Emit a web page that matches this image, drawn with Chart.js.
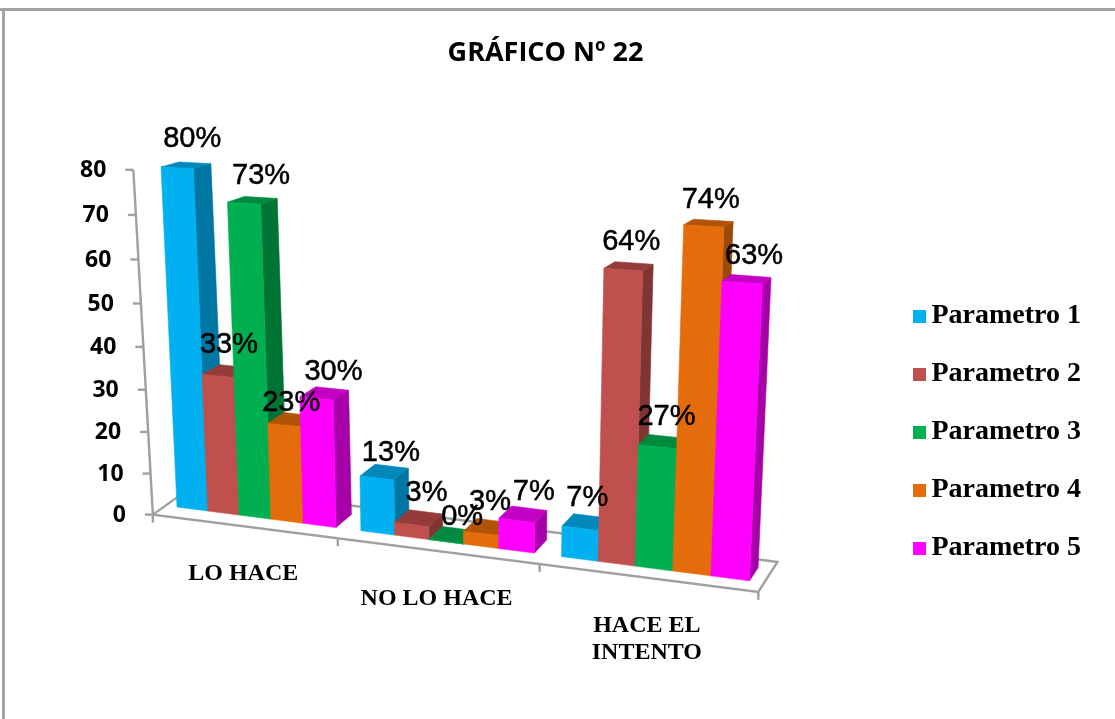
<!DOCTYPE html>
<html><head><meta charset="utf-8">
<style>html,body{margin:0;padding:0;background:#fff;overflow:hidden}#w{width:1115px;height:719px;position:relative}canvas{display:block}</style>
<script src="https://cdn.jsdelivr.net/npm/chart.js@4"></script>
</head><body><div id="w"><canvas id="c" width="1115" height="719"></canvas></div>
<script>
const categories = ['LO HACE', 'NO LO HACE', ['HACE EL', 'INTENTO']];
const seriesNames = ['Parametro 1', 'Parametro 2', 'Parametro 3', 'Parametro 4', 'Parametro 5'];
const parametro1 = [80, 13, 7];
const parametro2 = [33, 3, 64];
const parametro3 = [73, 0, 27];
const parametro4 = [23, 3, 74];
const parametro5 = [30, 7, 63];
const seriesValues = [parametro1, parametro2, parametro3, parametro4, parametro5];
const frontColors = ['#00B0F0', '#C0504D', '#00B050', '#E46C0A', '#FF00FF'];
const sideColors = ['#0076A2', '#7F3533', '#007435', '#9C4A07', '#A800A8'];
const topColors = ['#0088BA', '#953B39', '#008A3E', '#B25408', '#C400C4'];
// nudges of each data label from the top of its bar [dx, dy], by series then category
const labelNudge = [
  [[15, -29], [14, -25], [7, -30]],
  [[11, -31], [15, -32], [8, -28]],
  [[17, -27], [16, -25], [9, -30]],
  [[7, -22], [9, -31], [7, -26]],
  [[17, -27], [17, -29], [12, -27]]
];
const SLOTS = 17.25;
function proj(s, v, d) {
  const X0 = 165.6 + 30.35 * s + 0.252 * s * s;
  const Y0 = 507 + 0.129 * (X0 - 177);
  const dx = (18 - 0.0165 * (X0 - 177)) * d;
  const dy = (-13 + 0.1 * v) * d;
  const u = 4.25 + 0.0009 * (X0 - 177);
  const h = u * v * (0.945 + 0.00069 * v);
  const lean = (X0 - 474) * h / 6330;
  return [X0 + lean + dx, Y0 - h + dy];
}
function poly(ctx, pts, fill) {
  ctx.beginPath();
  pts.forEach((p, i) => i ? ctx.lineTo(p[0], p[1]) : ctx.moveTo(p[0], p[1]));
  ctx.closePath();
  ctx.fillStyle = fill;
  ctx.fill();
  ctx.strokeStyle = fill;
  ctx.lineWidth = 0.6;
  ctx.stroke();
}
function seg(ctx, a, b) {
  ctx.beginPath(); ctx.moveTo(a[0], a[1]); ctx.lineTo(b[0], b[1]); ctx.stroke();
}
function legendSwatch(color) {
  const cv = document.createElement('canvas');
  cv.width = 18; cv.height = 13;
  const g = cv.getContext('2d');
  g.fillStyle = color;
  g.fillRect(5, 0, 13, 13);
  return cv;
}
const FRONT = -0.7, BACK = 1.6;
const wallPoint = (ys, v) => { const p = proj(0, v, FRONT); return [p[0] - 3 * v / ys.max, p[1]]; };
const perspectiveBars = {
  id: 'perspectiveBars',
  beforeDraw(chart) {
    const ctx = chart.ctx;
    ctx.save();
    ctx.fillStyle = '#A3A3A3';
    ctx.fillRect(0, 8, chart.width, 3);
    ctx.fillRect(2, 8, 3, chart.height - 8);
    ctx.restore();
  },
  beforeDatasetsDraw(chart) {
    const ctx = chart.ctx, area = chart.chartArea, ys = chart.scales.y, xs = chart.scales.x;
    const toS = px => (px - area.left) / area.width * SLOTS;
    ctx.save();
    // floor and value axis
    ctx.strokeStyle = '#A0A0A0';
    ctx.lineWidth = 2.4;
    ctx.beginPath();
    [proj(0, 0, FRONT), proj(0, 0, BACK), proj(SLOTS, 0, BACK), proj(SLOTS, 0, FRONT)]
      .forEach((p, i) => i ? ctx.lineTo(p[0], p[1]) : ctx.moveTo(p[0], p[1]));
    ctx.closePath();
    ctx.stroke();
    seg(ctx, wallPoint(ys, ys.max), wallPoint(ys, ys.min));
    ctx.fillStyle = '#000';
    ctx.textAlign = 'right';
    ctx.textBaseline = 'middle';
    ctx.font = 'bold 23px "Open Sans"';
    ys.ticks.forEach(t => {
      const p = wallPoint(ys, t.value);
      seg(ctx, [p[0] - 8, p[1]], p);
      ctx.fillText(String(t.value), p[0] - 27, p[1] + 1);
    });
    // category ticks and labels
    const n = categories.length;
    for (let i = 0; i <= n; i++) {
      const p = proj(i / n * SLOTS, 0, FRONT);
      seg(ctx, p, [p[0], p[1] + 8]);
    }
    ctx.textAlign = 'center';
    ctx.font = 'bold 24px "Liberation Serif"';
    categories.forEach((c, i) => {
      const p = proj(toS(xs.getPixelForTick(i)), 0, FRONT);
      [].concat(c).forEach((line, k) => ctx.fillText(line, p[0], p[1] + 48 + k * 27));
    });
    // bars
    for (let i = 0; i < n; i++) {
      seriesValues.forEach((_, ds) => {
        const el = chart.getDatasetMeta(ds).data[i];
        const s0 = toS(el.x - el.width / 2), s1 = toS(el.x + el.width / 2);
        const v = ys.getValueForPixel(el.y);
        poly(ctx, [proj(s1, 0, 0), proj(s1, v, 0), proj(s1, v, 1), proj(s1, 0, 1)], sideColors[ds]);
        poly(ctx, [proj(s0, v, 0), proj(s1, v, 0), proj(s1, v, 1), proj(s0, v, 1)], topColors[ds]);
        poly(ctx, [proj(s0, 0, 0), proj(s1, 0, 0), proj(s1, v, 0), proj(s0, v, 0)], frontColors[ds]);
      });
    }
    ctx.restore();
  },
  beforeDatasetDraw() { return false; },
  afterDatasetsDraw(chart) {
    const ctx = chart.ctx, area = chart.chartArea, ys = chart.scales.y;
    ctx.save();
    ctx.fillStyle = '#000';
    ctx.strokeStyle = '#000';
    ctx.lineWidth = 0.5;
    ctx.textAlign = 'center';
    ctx.textBaseline = 'middle';
    ctx.font = '29px "Liberation Sans"';
    seriesValues.forEach((vals, ds) => {
      chart.getDatasetMeta(ds).data.forEach((el, i) => {
        const s = (el.x - area.left) / area.width * SLOTS;
        const p = proj(s, ys.getValueForPixel(el.y), 0);
        const nudge = labelNudge[ds][i];
        ctx.fillText(vals[i] + '%', p[0] + nudge[0], p[1] + nudge[1]);
        ctx.strokeText(vals[i] + '%', p[0] + nudge[0], p[1] + nudge[1]);
      });
    });
    ctx.restore();
  }
};
new Chart(document.getElementById('c'), {
  type: 'bar',
  data: {
    labels: categories,
    datasets: seriesNames.map((name, i) => ({
      label: name,
      data: seriesValues[i],
      backgroundColor: frontColors[i],
      borderWidth: 0,
      categoryPercentage: 5 / 5.75,
      barPercentage: 1
    }))
  },
  options: {
    responsive: false,
    animation: false,
    layout: { padding: { top: 37, right: 24, left: 0, bottom: 127 } },
    scales: {
      x: { display: false },
      y: { display: false, min: 0, max: 80, ticks: { stepSize: 10 } }
    },
    plugins: {
      tooltip: { enabled: false },
      title: {
        display: true,
        text: 'GRÁFICO Nº 22',
        color: '#000',
        font: { family: '"Open Sans"', size: 27, weight: 'bold' },
        padding: { top: 0, bottom: 10 }
      },
      legend: {
        position: 'right',
        align: 'end',
        labels: {
          boxWidth: 13, boxHeight: 13, padding: 30, color: '#000',
          usePointStyle: true, pointStyleWidth: 1,
          font: { family: '"Liberation Serif"', size: 28, weight: 'bold' },
          generateLabels(chart) {
            return Chart.defaults.plugins.legend.labels.generateLabels(chart).map((item, i) => {
              item.pointStyle = legendSwatch(frontColors[i]);
              return item;
            });
          }
        }
      }
    }
  },
  plugins: [perspectiveBars]
});
</script></body></html>
